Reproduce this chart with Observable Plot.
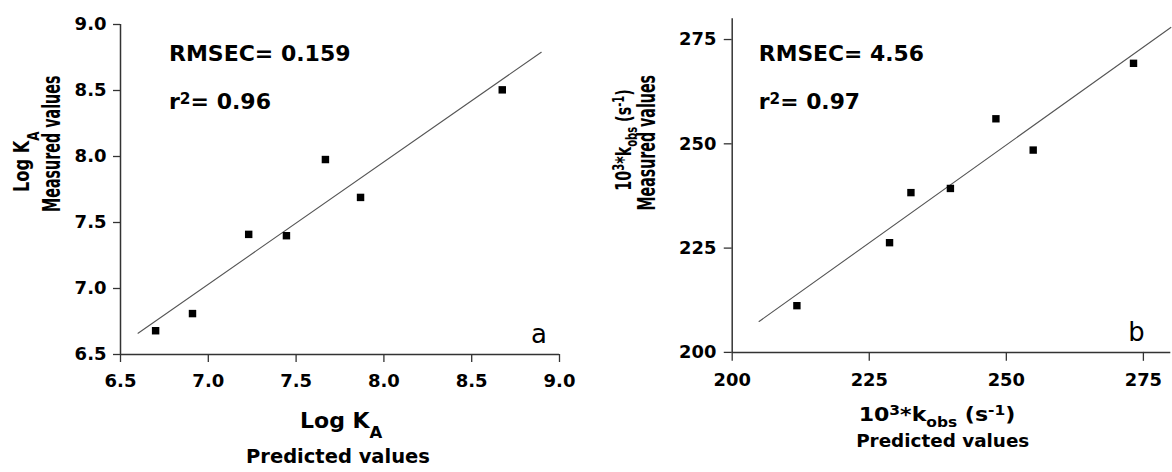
<!DOCTYPE html>
<html><head><meta charset="utf-8">
<script src="https://cdn.jsdelivr.net/npm/d3@7"></script>
<script src="https://cdn.jsdelivr.net/npm/@observablehq/plot@0.6"></script>
<style>
html,body{margin:0;padding:0;background:#fff}
body{width:1172px;height:472px;overflow:hidden;position:relative}
#pa,#pb{position:absolute;top:0}
#pa{left:0}
#pb{left:586px}
</style></head><body>
<div id="pa"></div><div id="pb"></div>
<script>
// ---- Panel a: Log K_A ----
const aPredicted = [6.70, 6.91, 7.23, 7.445, 7.667, 7.867, 8.674];
const aMeasured  = [6.68, 6.81, 7.41, 7.40, 7.977, 7.69, 8.505];
const aFitX = [6.6, 8.896];
const aFitY = [6.661, 8.79];
const aTicks = [6.5, 7.0, 7.5, 8.0, 8.5, 9.0];
const aRmsec = "RMSEC= 0.159";
const aR2 = "0.96";
const aTag = "a";

// ---- Panel b: 10^3*k_obs ----
const bPredicted = [211.8, 228.7, 232.6, 239.8, 248.1, 254.9, 273.2];
const bMeasured  = [211.2, 226.3, 238.3, 239.3, 256.0, 248.5, 269.3];
const bFitX = [204.9, 280];
const bFitY = [207.4, 277.9];
const bTicks = [200, 225, 250, 275];
const bRmsec = "RMSEC= 4.56";
const bR2 = "0.97";
const bTag = "b";

const axisColor = "#333";

function panel({pred, meas, fitX, fitY, ticks, fmt, domain, width, margins, tickX, tickY}) {
  const pts = pred.map((x, i) => ({x, y: meas[i]}));
  const fit = fitX.map((x, i) => ({x, y: fitY[i]}));
  return Plot.plot({
    width, height: 472,
    marginLeft: margins[0], marginRight: margins[1], marginTop: margins[2], marginBottom: margins[3],
    style: {fontFamily: "'DejaVu Sans'", fontSize: "18px", fontWeight: "bold", color: "#000", background: "#fff", overflow: "visible"},
    x: {domain, label: null},
    y: {domain, label: null},
    marks: [
      Plot.axisX({ticks, tickFormat: fmt, tickSize: tickX[0], tickPadding: tickX[1], stroke: axisColor, strokeWidth: 1.3, fill: "#000", label: null}),
      Plot.axisY({ticks, tickFormat: fmt, tickSize: tickY[0], tickPadding: tickY[1], stroke: axisColor, strokeWidth: 1.3, fill: "#000", label: null}),
      Plot.ruleX([domain[0]], {stroke: axisColor, strokeWidth: 1.5}),
      Plot.ruleY([domain[0]], {stroke: axisColor, strokeWidth: 1.5}),
      Plot.line(fit, {x: "x", y: "y", stroke: "#555", strokeWidth: 1.1}),
      Plot.dot(pts, {x: "x", y: "y", symbol: "square", r: 4.2, fill: "#000", stroke: "none"})
    ]
  });
}

function addText(svg, x, y, parts, o) {
  const size = o.size;
  const fam = o.family || "DejaVu Sans";
  let tr = `translate(${x},${y})`;
  if (o.rotate) tr += " rotate(-90)";
  if (o.sy || o.sx) tr += ` scale(${o.sx || 1},${o.sy || 1})`;
  const t = d3.select(svg).append("text")
    .attr("transform", tr)
    .attr("text-anchor", "start")
    .attr("font-family", fam)
    .attr("font-weight", o.weight || "bold")
    .attr("font-size", size)
    .attr("fill", "#000");
  let shift = 0;
  for (const p of parts) {
    const s = t.append("tspan").text(p.t);
    let target = 0;
    if (p.sub) target = (o.subShift ?? 0.35) * size;
    if (p.sup) target = -(o.supShift ?? 0.32) * size;
    if (p.sub || p.sup) s.attr("font-size", size * (o.subScale || 0.7));
    if (target !== shift) { s.attr("dy", target - shift); shift = target; }
  }
}

// Panel a
const svgA = panel({pred: aPredicted, meas: aMeasured, fitX: aFitX, fitY: aFitY, ticks: aTicks,
  fmt: d3.format(".1f"), domain: [6.5, 9.0], width: 586, margins: [120, 27, 24, 118], tickX: [8, 12], tickY: [7, 7]});
document.getElementById("pa").appendChild(svgA);
addText(svgA, 169, 61, [{t: aRmsec}], {size: 22});
addText(svgA, 169, 109, [{t: "r"}, {t: "2", sup: true}, {t: "= " + aR2}], {size: 22, supShift: 0.25});
addText(svgA, 531, 343, [{t: aTag}], {size: 26, weight: "normal"});
addText(svgA, 300, 428, [{t: "Log K"}, {t: "A", sub: true}], {size: 22, subShift: 0.45, subScale: 0.75});
addText(svgA, 246, 463, [{t: "Predicted values"}], {size: 19.5});
addText(svgA, 29, 192, [{t: "Log K"}, {t: "A", sub: true}], {size: 16.2, rotate: true, sy: 1.35, subShift: 0.45, subScale: 0.75});
addText(svgA, 59.5, 212, [{t: "Measured values"}], {size: 14.3, rotate: true, sy: 1.75});

// Panel b
const svgB = panel({pred: bPredicted, meas: bMeasured, fitX: bFitX, fitY: bFitY, ticks: bTicks,
  fmt: d3.format("d"), domain: [200, 280], width: 590, margins: [146.7, 1.7, 18.3, 117.7], tickX: [9, 12], tickY: [8, 8]});
document.getElementById("pb").appendChild(svgB);
addText(svgB, 174, 61, [{t: bRmsec}], {size: 22});
addText(svgB, 174, 110, [{t: "r"}, {t: "2", sup: true}, {t: "= " + bR2}], {size: 22, supShift: 0.25});
addText(svgB, 546, 343, [{t: bTag}], {size: 26, weight: "normal"});
const kobs = [{t: "10"}, {t: "3", sup: true}, {t: "*k"}, {t: "obs", sub: true}, {t: " (s"}, {t: "-1", sup: true}, {t: ")"}];
addText(svgB, 274.5, 424, kobs, {size: 19, sx: 1.17, subShift: 0.3});
addText(svgB, 272, 450, [{t: "Predicted values"}], {size: 18.5});
addText(svgB, 45, 192, kobs, {size: 14.4, rotate: true, sy: 1.5, subShift: 0.3});
addText(svgB, 69.5, 212, [{t: "Measured values"}], {size: 14.3, rotate: true, sy: 1.75});
</script>
</body></html>
